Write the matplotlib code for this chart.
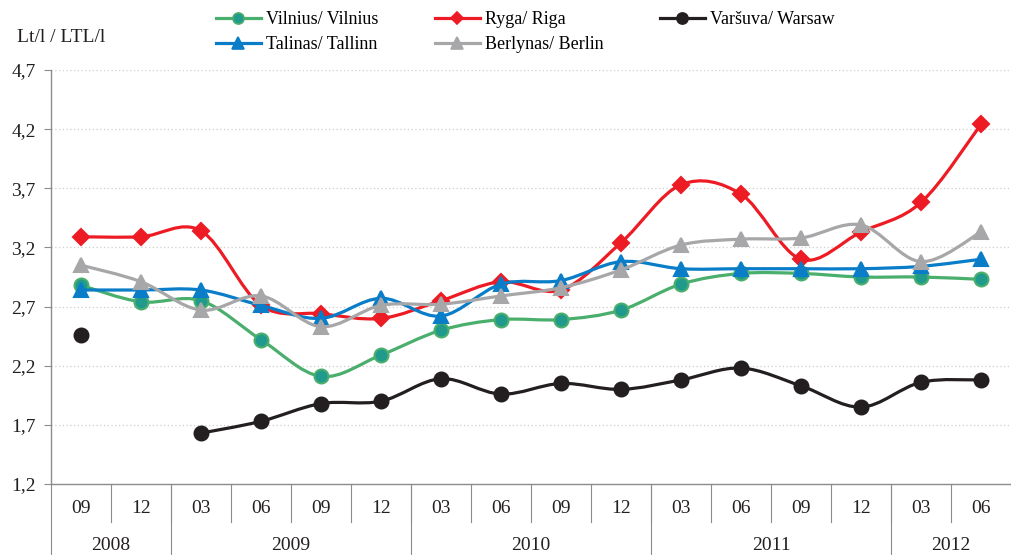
import numpy as np
import matplotlib
matplotlib.use("Agg")
import matplotlib.pyplot as plt
from matplotlib.path import Path
from matplotlib.patches import PathPatch
from matplotlib.lines import Line2D

plt.rcParams['font.family'] = ['Liberation Serif', 'DejaVu Serif']

months = ['09', '12', '03', '06', '09', '12', '03', '06', '09', '12',
          '03', '06', '09', '12', '03', '06']
years = ['2008', '2009', '2010', '2011', '2012']
year_counts = [2, 4, 4, 4, 2]

vilnius = [2.88, 2.74, 2.75, 2.42, 2.11, 2.29, 2.50, 2.59, 2.59, 2.67,
           2.89, 2.98, 2.98, 2.95, 2.95, 2.93]
riga = [3.29, 3.29, 3.34, 2.71, 2.64, 2.60, 2.75, 2.91, 2.84, 3.24,
        3.73, 3.65, 3.10, 3.33, 3.58, 4.24]
warsaw = [2.46, np.nan, 1.63, 1.73, 1.88, 1.90, 2.09, 1.96, 2.05, 2.00,
          2.08, 2.18, 2.03, 1.85, 2.06, 2.08]
tallinn = [2.84, 2.84, 2.84, 2.71, 2.60, 2.77, 2.62, 2.89, 2.92, 3.08,
           3.02, 3.02, 3.02, 3.02, 3.04, 3.10]
berlin = [3.05, 2.91, 2.67, 2.79, 2.53, 2.71, 2.72, 2.79, 2.86, 3.01,
          3.22, 3.27, 3.28, 3.39, 3.08, 3.33]

yticks = [1.2, 1.7, 2.2, 2.7, 3.2, 3.7, 4.2, 4.7]


def smooth_path(x, y):
    # Excel-like smoothed line: cubic bezier through the points
    pts = np.column_stack([x, y])
    n = len(pts)
    verts = [pts[0]]
    codes = [Path.MOVETO]
    for i in range(n - 1):
        p0 = pts[i - 1] if i > 0 else pts[i]
        p1 = pts[i]
        p2 = pts[i + 1]
        p3 = pts[i + 2] if i + 2 < n else pts[i + 1]
        c1 = p1 + (p2 - p0) / 6.0
        c2 = p2 - (p3 - p1) / 6.0
        verts += [c1, c2, p2]
        codes += [Path.CURVE4] * 3
    return Path(verts, codes)


fig = plt.figure(figsize=(10.11, 5.55), dpi=100)
ax = fig.add_axes([51 / 1011, 71 / 555, 960 / 1011, 414 / 555])

series = [
    ('Vilnius/ Vilnius', vilnius, '#4aae6c', 'o', '#1f9a8c', 10),
    ('Ryga/ Riga', riga, '#ed1c24', 'D', '#ed1c24', 8),
    ('Varšuva/ Warsaw', warsaw, '#231f20', 'o', '#231f20', 10),
    ('Talinas/ Tallinn', tallinn, '#0a7dc8', '^', '#0a7dc8', 10),
    ('Berlynas/ Berlin', berlin, '#a7a7a9', '^', '#a7a7a9', 10),
]

x = np.arange(len(months))
handles = {}
for z, (name, vals, col, mk, fc, ms) in enumerate(series):
    vals = np.array(vals, dtype=float)
    ok = ~np.isnan(vals)
    # split into runs of valid values
    idx = np.where(ok)[0]
    runs = np.split(idx, np.where(np.diff(idx) > 1)[0] + 1)
    for r in runs:
        if len(r) > 1:
            ax.add_patch(PathPatch(smooth_path(x[r], vals[r]), fill=False,
                                   edgecolor=col, lw=2.3, zorder=3 + z,
                                   capstyle='round', joinstyle='round'))
    ax.plot(x[ok], vals[ok], linestyle='none', marker=mk, markersize=ms,
            markerfacecolor=fc, markeredgecolor=col, markeredgewidth=1.5,
            zorder=3 + z)
    handles[name] = Line2D([], [], color=col, lw=2.3, marker=mk,
                           markersize=ms * 0.8, markerfacecolor=fc,
                           markeredgecolor=col, markeredgewidth=1.2)

ax.set_xlim(-0.5, len(months) - 0.5)
ax.set_ylim(1.2, 4.7)
ax.set_yticks(yticks)
ax.set_yticklabels([f"{v:.1f}".replace('.', ',') for v in yticks])
for v in yticks[1:]:
    ax.axhline(v, color='#cfcfcf', lw=0.9, ls=(0, (1, 2)), zorder=1)

for s in ['top', 'right']:
    ax.spines[s].set_visible(False)
for s in ['left', 'bottom']:
    ax.spines[s].set_color('#8c8c8c')
    ax.spines[s].set_linewidth(1.0)
ax.tick_params(axis='y', length=5, labelsize=14, pad=6,
               colors='#8c8c8c', labelcolor='#231f20')
ax.set_xticks([])

# category axis: months and years
trans = ax.get_xaxis_transform()
for i, m in enumerate(months):
    ax.text(i, -0.058, m, transform=trans, ha='center', va='center',
            fontsize=14, color='#231f20')
    if i > 0:
        ax.add_line(Line2D([i - 0.5, i - 0.5], [0, -0.092], transform=trans,
                           color='#8c8c8c', lw=0.8, clip_on=False))
start = 0
for yr, cnt in zip(years, year_counts):
    mid = start + (cnt - 1) / 2
    ax.text(mid, -0.148, yr, transform=trans, ha='center', va='center',
            fontsize=14, color='#231f20')
    ax.add_line(Line2D([start - 0.5, start - 0.5], [0, -0.175],
                       transform=trans, color='#8c8c8c', lw=0.8,
                       clip_on=False))
    start += cnt

fig.text(17 / 1011, 1 - 38 / 555, 'Lt/l / LTL/l', ha='left', va='center',
         fontsize=14, color='#231f20')

# legend filled row by row: matplotlib fills columns, so reorder
order = ['Vilnius/ Vilnius', 'Talinas/ Tallinn', 'Ryga/ Riga',
         'Berlynas/ Berlin', 'Varšuva/ Warsaw']
fig.legend([handles[k] for k in order], order, loc='upper left',
           bbox_to_anchor=(205 / 1011, 1.0), ncol=3, frameon=False,
           fontsize=13, handlelength=2.5, columnspacing=3.1,
           handletextpad=0.3, labelspacing=0.45, borderaxespad=0.2)

fig.savefig('out.png', dpi=100)
